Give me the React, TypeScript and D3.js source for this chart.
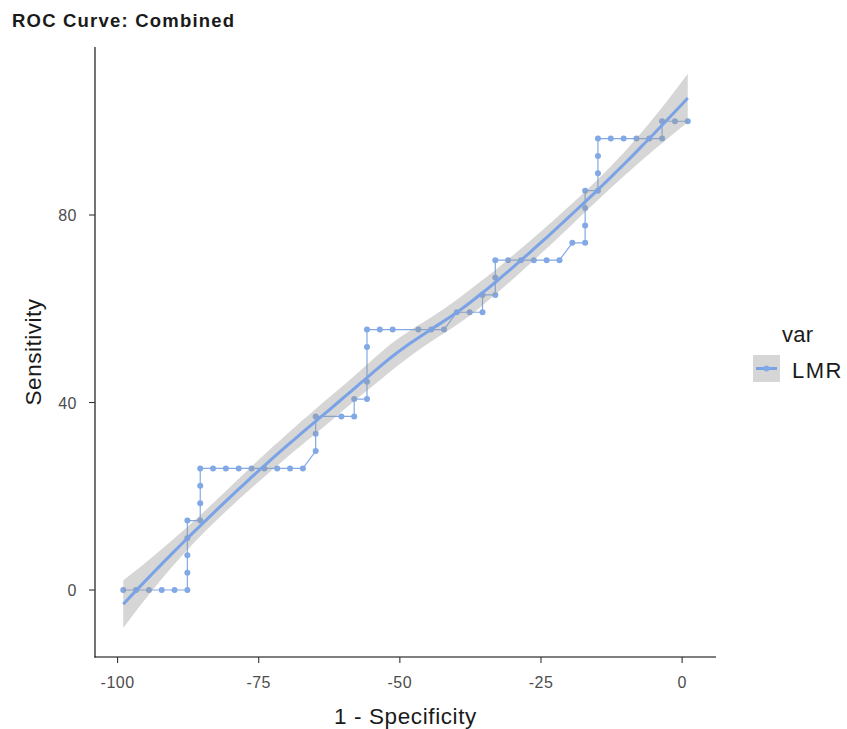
import React, { useMemo } from "react";
import * as d3 from "d3";

// Specificity (%) and sensitivity (%) of the ROC steps, in drawing order
const specificity: number[] = [
  100, 97.73, 95.45, 93.18, 90.91, 88.64, 88.64, 88.64, 88.64, 88.64,
  86.36, 86.36, 86.36, 86.36, 84.09, 81.82, 79.55, 77.27, 75.0, 72.73,
  70.45, 68.18, 65.91, 65.91, 65.91, 61.36, 59.09, 59.09, 56.82, 56.82,
  56.82, 56.82, 54.55, 52.27, 47.73, 45.45, 43.18, 40.91, 38.64, 36.36,
  36.36, 34.09, 34.09, 34.09, 31.82, 29.55, 27.27, 25.0, 22.73, 20.45,
  18.18, 18.18, 18.18, 18.18, 15.91, 15.91, 15.91, 15.91, 13.64, 11.36,
  9.09, 6.82, 4.55, 4.55, 2.27, 0,
];
const sensitivity: number[] = [
  0, 0, 0, 0, 0, 0, 3.7, 7.41, 11.11, 14.81,
  14.81, 18.52, 22.22, 25.93, 25.93, 25.93, 25.93, 25.93, 25.93, 25.93,
  25.93, 25.93, 29.63, 33.33, 37.04, 37.04, 37.04, 40.74, 40.74, 44.44,
  51.85, 55.56, 55.56, 55.56, 55.56, 55.56, 55.56, 59.26, 59.26, 59.26,
  62.96, 62.96, 66.67, 70.37, 70.37, 70.37, 70.37, 70.37, 70.37, 74.07,
  74.07, 77.78, 81.48, 85.19, 85.19, 88.89, 92.59, 96.3, 96.3, 96.3,
  96.3, 96.3, 96.3, 100, 100, 100,
];
const seriesName = "LMR";
const xTicks: number[] = [-100, -75, -50, -25, 0];
const yTicks: number[] = [0, 40, 80];
const title = "ROC Curve: Combined";
const xTitle = "1 - Specificity";
const yTitle = "Sensitivity";
const legendTitle = "var";

const W = 847;
const H = 729;
const panel = { left: 95, right: 716, top: 47, bottom: 657 };
const blue = "#82A8E6";
const smoothBlue = "#7AA2E6";
const font = "'Liberation Sans', Arial, Helvetica, sans-serif";

function inv3(m: number[][]): number[][] {
  const [a, b, c] = m[0];
  const [d, e, f] = m[1];
  const [g, h, i] = m[2];
  const A = e * i - f * h, B = -(d * i - f * g), C = d * h - e * g;
  const det = a * A + b * B + c * C;
  return [
    [A / det, -(b * i - c * h) / det, (b * f - c * e) / det],
    [B / det, (a * i - c * g) / det, -(a * f - c * d) / det],
    [C / det, -(a * h - b * g) / det, (a * e - b * d) / det],
  ];
}

// Local quadratic (loess) operator rows at x0: value and slope
function localOperator(xs: number[], x0: number, span: number) {
  const n = xs.length;
  const q = Math.floor(n * span);
  const d = xs.map((x) => Math.abs(x - x0));
  const sorted = [...d].sort((a, b) => a - b);
  let h = sorted[Math.max(0, q - 1)];
  h = Math.max(h, 1e-9) * 1.0000001;
  const w = d.map((di) => (di < h ? Math.pow(1 - Math.pow(di / h, 3), 3) : 0));
  const M = [
    [0, 0, 0],
    [0, 0, 0],
    [0, 0, 0],
  ];
  for (let k = 0; k < n; k++) {
    const dx = xs[k] - x0;
    const v = [1, dx, dx * dx];
    for (let r = 0; r < 3; r++) for (let c = 0; c < 3; c++) M[r][c] += w[k] * v[r] * v[c];
  }
  const Mi = inv3(M);
  const val = xs.map((x, k) => {
    const dx = x - x0;
    return w[k] * (Mi[0][0] + Mi[0][1] * dx + Mi[0][2] * dx * dx);
  });
  const slope = xs.map((x, k) => {
    const dx = x - x0;
    return w[k] * (Mi[1][0] + Mi[1][1] * dx + Mi[1][2] * dx * dx);
  });
  return { val, slope };
}

// kd-tree vertices as in loess(surface = "interpolate")
function buildVertices(xs: number[], span: number): number[] {
  const n = xs.length;
  const fc = Math.floor(n * span * 0.2);
  const sorted = [...xs].sort((a, b) => a - b);
  const lo = sorted[0], hi = sorted[n - 1];
  const mu = 0.005 * Math.max(hi - lo, 1e-10);
  const verts = new Set<number>([lo - mu, hi + mu]);
  const split = (l: number, u: number, a: number, b: number) => {
    if (u - l + 1 <= fc) return;
    const m = Math.floor((l + u) / 2);
    const v = m < u ? (sorted[m] + sorted[m + 1]) / 2 : sorted[m];
    if (v <= a || v >= b) return;
    verts.add(v);
    let mm = m;
    while (mm < u && sorted[mm + 1] <= v) mm++;
    while (mm >= l && sorted[mm] > v) mm--;
    split(l, mm, a, v);
    split(mm + 1, u, v, b);
  };
  split(0, n - 1, lo - mu, hi + mu);
  return Array.from(verts).sort((a, b) => a - b);
}

function tQuantile975(df: number): number {
  const z = 1.959964;
  const g1 = (Math.pow(z, 3) + z) / 4;
  const g2 = (5 * Math.pow(z, 5) + 16 * Math.pow(z, 3) + 3 * z) / 96;
  const g3 = (3 * Math.pow(z, 7) + 19 * Math.pow(z, 5) + 17 * Math.pow(z, 3) - 15 * z) / 384;
  return z + g1 / df + g2 / (df * df) + g3 / (df * df * df);
}

function computeSmooth(xs: number[], ys: number[]) {
  const n = xs.length;
  const span = 0.75;
  const verts = buildVertices(xs, span);
  const ops = verts.map((v) => localOperator(xs, v, span));
  const interpRow = (x0: number): number[] => {
    let c = 0;
    while (c < verts.length - 2 && x0 > verts[c + 1]) c++;
    const a = verts[c], b = verts[c + 1];
    const hlen = b - a;
    const t = (x0 - a) / hlen;
    const phi0 = (1 - t) * (1 - t) * (1 + 2 * t);
    const phi1 = t * t * (3 - 2 * t);
    const psi0 = t * (1 - t) * (1 - t);
    const psi1 = -t * t * (1 - t);
    const A = ops[c], B = ops[c + 1];
    return A.val.map(
      (_, k) => phi0 * A.val[k] + phi1 * B.val[k] + (psi0 * A.slope[k] + psi1 * B.slope[k]) * hlen
    );
  };
  const L = xs.map((x0) => interpRow(x0));
  const fitted = L.map((row) => d3.sum(row, (l, k) => l * ys[k]));
  const res = ys.map((y, i) => y - fitted[i]);
  const IL = L.map((row, i) => row.map((v, j) => (i === j ? 1 : 0) - v));
  let one = 0, two = 0;
  for (let i = 0; i < n; i++) {
    for (let j = 0; j < n; j++) {
      let s = 0;
      for (let k = 0; k < n; k++) s += IL[k][i] * IL[k][j];
      if (i === j) one += s;
      two += s * s;
    }
  }
  const sigma = Math.sqrt(d3.sum(res, (r) => r * r) / one);
  const df = (one * one) / two;
  const tq = tQuantile975(df);
  const [xmin, xmax] = d3.extent(xs) as [number, number];
  const grid = d3.range(80).map((i) => xmin + ((xmax - xmin) * i) / 79);
  return grid.map((x0) => {
    const l = interpRow(x0);
    const y = d3.sum(l, (v, k) => v * ys[k]);
    const se = sigma * Math.sqrt(d3.sum(l, (v) => v * v));
    return { x: x0, y, lo: y - tq * se, hi: y + tq * se };
  });
}

export default function App() {
  const xs = useMemo(() => specificity.map((s) => 1 - s), []);
  const ys = sensitivity;
  const smooth = useMemo(() => computeSmooth(xs, ys), [xs]);

  const xScale = d3.scaleLinear().domain([-104, 6]).range([panel.left, panel.right]);
  const yScale = d3.scaleLinear().domain([-14.29, 115.84]).range([panel.bottom, panel.top]);

  const rocLine = d3
    .line<number>()
    .x((_, i) => xScale(xs[i]))
    .y((_, i) => yScale(ys[i]))(xs) as string;
  const smoothLine = d3
    .line<{ x: number; y: number }>()
    .x((d) => xScale(d.x))
    .y((d) => yScale(d.y))(smooth) as string;
  const band = d3
    .area<{ x: number; lo: number; hi: number }>()
    .x((d) => xScale(d.x))
    .y0((d) => yScale(d.lo))
    .y1((d) => yScale(d.hi))(smooth) as string;

  const legX = 753;
  const legY = 355;

  return (
    <div style={{ position: "absolute", left: 0, top: 0 }}>
      <svg width={W} height={H} style={{ display: "block", background: "#fff" }} fontFamily={font}>
        <text x={12} y={26.5} fontSize={18.5} fontWeight="bold" fill="#1a1a1a" letterSpacing={1.2}>
          {title}
        </text>

        <g>
          <path d={rocLine} fill="none" stroke={blue} strokeWidth={1.2} />
          {xs.map((x, i) => (
            <circle key={i} cx={xScale(x)} cy={yScale(ys[i])} r={3} fill={blue} />
          ))}
          <path d={band} fill="#999999" fillOpacity={0.4} />
          <path d={smoothLine} fill="none" stroke={smoothBlue} strokeWidth={3} />
        </g>

        {/* axes */}
        <line x1={panel.left} x2={panel.left} y1={panel.top} y2={panel.bottom + 0.5} stroke="#000" strokeWidth={1.1} />
        <line x1={panel.left - 0.5} x2={panel.right} y1={panel.bottom} y2={panel.bottom} stroke="#000" strokeWidth={1.1} />
        {xTicks.map((t) => (
          <g key={t}>
            <line x1={xScale(t)} x2={xScale(t)} y1={panel.bottom} y2={panel.bottom + 6} stroke="#333" strokeWidth={1.1} />
            <text x={xScale(t)} y={panel.bottom + 31} textAnchor="middle" fontSize={16} fill="#4D4D4D" letterSpacing={0.5}>
              {t}
            </text>
          </g>
        ))}
        {yTicks.map((t) => (
          <g key={t}>
            <line x1={panel.left - 6} x2={panel.left} y1={yScale(t)} y2={yScale(t)} stroke="#333" strokeWidth={1.1} />
            <text x={panel.left - 18} y={yScale(t) + 6} textAnchor="end" fontSize={16} fill="#4D4D4D" letterSpacing={0.5}>
              {t}
            </text>
          </g>
        ))}
        <text x={(panel.left + panel.right) / 2} y={724} textAnchor="middle" fontSize={22.5} fill="#1a1a1a" letterSpacing={0.6}>
          {xTitle}
        </text>
        <text
          transform={`translate(41, ${(panel.top + panel.bottom) / 2}) rotate(-90)`}
          textAnchor="middle"
          fontSize={22.5}
          fill="#1a1a1a"
          letterSpacing={0.5}
        >
          {yTitle}
        </text>

        {/* legend */}
        <text x={782} y={342} fontSize={22} fill="#1a1a1a" letterSpacing={0.3}>
          {legendTitle}
        </text>
        <rect x={legX} y={legY} width={27} height={27} fill="#D6D6D6" />
        <line x1={legX + 3} x2={legX + 24} y1={legY + 13.5} y2={legY + 13.5} stroke={smoothBlue} strokeWidth={3} />
        <circle cx={legX + 13.5} cy={legY + 13.5} r={3} fill={blue} />
        <text x={792} y={377.5} fontSize={22} fill="#1a1a1a" letterSpacing={1.5}>
          {seriesName}
        </text>
      </svg>
    </div>
  );
}
